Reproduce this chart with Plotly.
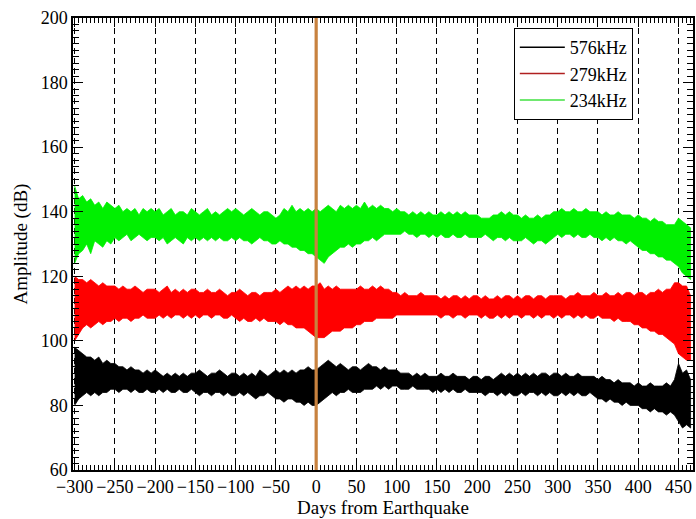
import plotly.graph_objects as go

# ---------------- data ----------------
days = list(range(-300, 470, 5))          # sampling grid, days from earthquake
quake_day = 0

series_names = ["576kHz", "279kHz", "234kHz"]

# 234 kHz (green) upper / lower envelope, dB
green_upper = [
    148, 144, 145, 143, 144, 142, 143, 141, 143, 142,
    141, 142, 140, 141, 140, 141, 139, 141, 140, 141,
    140, 141, 139, 140, 141, 139, 140, 140, 139, 141,
    140, 139, 140, 141, 139, 140, 139, 140, 141, 140,
    141, 140, 139, 140, 141, 140, 139, 140, 140, 139,
    138, 139, 141, 140, 142, 140, 141, 140, 141, 140,
    141, 140, 141, 142, 141, 140, 142, 141, 142, 141,
    142, 141, 143, 141, 142, 141, 142, 141, 141, 140,
    141, 140, 140, 139, 140, 139, 140, 139, 140, 139,
    139, 140, 139, 140, 139, 140, 139, 140, 139, 139,
    139, 138, 138, 138, 139, 139, 140, 139, 140, 139,
    139, 138, 139, 138, 138, 139, 138, 139, 139, 140,
    140, 141, 140, 140, 141, 140, 140, 141, 140, 140,
    140, 139, 140, 139, 139, 140, 139, 139, 139, 138,
    139, 138, 138, 137, 138, 137, 137, 136, 136, 136,
    138, 137, 136, 135,
]
green_lower = [
    124, 127, 128, 130, 127, 131, 130, 129, 131, 130,
    132, 131, 132, 133, 131, 132, 133, 132, 131, 132,
    132, 131, 132, 130, 131, 132, 131, 130, 132, 131,
    132, 131, 132, 131, 132, 131, 132, 131, 131, 132,
    131, 132, 131, 131, 130, 131, 132, 131, 131, 130,
    130, 131, 130, 130, 129, 129, 128, 128, 127, 127,
    126, 125, 124, 126, 127, 128, 129, 129, 130, 129,
    130, 130, 131, 131, 132, 131, 132, 133, 133, 133,
    133, 133, 134, 133, 133, 132, 133, 133, 132, 133,
    132, 133, 132, 132, 133, 132, 132, 133, 132, 132,
    132, 132, 133, 132, 131, 132, 132, 131, 132, 131,
    131, 131, 132, 131, 130, 131, 131, 130, 131, 132,
    133, 132, 133, 133, 132, 133, 132, 132, 133, 132,
    132, 131, 132, 131, 132, 131, 131, 130, 131, 130,
    129, 128, 128, 127, 127, 126, 126, 125, 125, 124,
    123, 121, 120, 119,
]

# 279 kHz (red) upper / lower envelope, dB
red_upper = [
    120, 119, 119, 118, 119, 118, 117, 118, 117, 117,
    117, 116, 117, 116, 116, 117, 116, 115, 116, 116,
    116, 115, 116, 117, 115, 116, 115, 116, 115, 116,
    116, 115, 115, 116, 115, 115, 116, 115, 114, 115,
    115, 116, 115, 114, 115, 115, 114, 115, 115, 115,
    116, 115, 116, 117, 116, 117, 116, 117, 116, 117,
    117, 118, 116, 117, 116, 117, 116, 116, 116, 116,
    116, 117, 116, 116, 117, 116, 117, 116, 116, 115,
    115, 114, 115, 114, 114, 114, 115, 114, 114, 114,
    114, 113, 114, 113, 114, 114, 113, 114, 113, 114,
    114, 113, 114, 113, 113, 114, 113, 114, 114, 113,
    114, 113, 114, 114, 113, 114, 114, 113, 114, 114,
    114, 114, 113, 114, 114, 115, 114, 114, 114, 115,
    114, 114, 115, 114, 114, 115, 114, 115, 115, 114,
    115, 115, 114, 115, 115, 116, 115, 116, 116, 118,
    118, 117, 117, 114,
]
red_lower = [
    100, 102, 104, 105, 104, 105, 106, 105, 106, 106,
    107, 106, 107, 107, 106, 107, 107, 108, 107, 107,
    107, 108, 107, 108, 107, 108, 108, 107, 108, 107,
    108, 107, 108, 108, 107, 108, 108, 107, 107, 108,
    107, 106, 107, 106, 106, 107, 106, 107, 106, 106,
    106, 105, 106, 105, 105, 104, 104, 104, 103, 102,
    101, 101, 101, 102, 103, 103, 103, 104, 104, 104,
    105, 105, 106, 106, 106, 107, 107, 107, 107, 107,
    108, 108, 108, 108, 108, 108, 108, 108, 108, 108,
    108, 107, 108, 108, 107, 108, 108, 107, 108, 108,
    108, 107, 108, 107, 107, 108, 107, 108, 107, 108,
    108, 107, 108, 108, 107, 108, 107, 108, 108, 107,
    108, 107, 108, 108, 107, 108, 107, 108, 107, 107,
    108, 107, 107, 107, 106, 107, 106, 106, 106, 105,
    105, 104, 104, 103, 103, 102, 102, 101, 100, 99,
    96, 95, 94, 94,
]

# 576 kHz (black) upper / lower envelope, dB
black_upper = [
    98, 97, 96, 95, 95, 94, 95, 93, 94, 93,
    93, 92, 92, 91, 92, 91, 91, 90, 91, 90,
    91, 90, 89, 90, 89, 90, 89, 90, 89, 90,
    90, 91, 90, 89, 90, 90, 91, 90, 89, 90,
    90, 89, 90, 89, 90, 89, 91, 90, 89, 90,
    91, 90, 91, 90, 91, 90, 91, 91, 92, 91,
    91, 92, 93, 94, 93, 92, 93, 92, 91, 92,
    92, 91, 92, 93, 92, 92, 91, 92, 91, 91,
    91, 90, 90, 90, 89, 90, 89, 90, 89, 89,
    89, 90, 89, 89, 90, 89, 89, 89, 88, 89,
    89, 88, 89, 89, 88, 89, 90, 89, 90, 89,
    90, 89, 90, 89, 90, 89, 90, 90, 89, 90,
    90, 89, 90, 89, 89, 90, 89, 89, 89, 89,
    88, 89, 88, 88, 87, 88, 87, 87, 87, 86,
    87, 86, 86, 87, 86, 86, 86, 87, 86, 88,
    93, 90, 91, 88,
]
black_lower = [
    80, 82, 83, 84, 83, 84, 83, 84, 84, 85,
    85, 84, 85, 85, 84, 85, 84, 84, 85, 84,
    84, 85, 84, 85, 84, 84, 85, 84, 84, 85,
    84, 83, 84, 84, 83, 84, 84, 83, 84, 83,
    83, 84, 83, 84, 83, 82, 83, 83, 84, 83,
    82, 82, 81, 82, 82, 81, 81, 80, 81, 80,
    80, 81, 82, 83, 84, 83, 84, 84, 85, 84,
    84, 84, 85, 85, 85, 86, 85, 86, 85, 86,
    86, 85, 85, 85, 86, 85, 85, 85, 85, 84,
    85, 84, 85, 84, 85, 84, 84, 85, 84, 84,
    84, 84, 83, 84, 84, 83, 84, 83, 84, 83,
    83, 84, 83, 84, 84, 83, 84, 83, 84, 83,
    83, 84, 83, 84, 83, 84, 83, 83, 84, 83,
    82, 82, 81, 82, 81, 81, 80, 81, 80, 80,
    80, 79, 79, 78, 79, 78, 78, 77, 78, 77,
    75, 73, 74, 73,
]

x_tick_vals = [-300, -250, -200, -150, -100, -50, 0, 50, 100, 150, 200, 250, 300, 350, 400, 450]
y_tick_vals = [60, 80, 100, 120, 140, 160, 180, 200]

# ---------------- styling ----------------
FONT = "Liberation Serif, Times New Roman, serif"
colors = {"576kHz": "#000000", "279kHz": "#ff0000", "234kHz": "#00f000"}
legend_colors = {"576kHz": "#000000", "279kHz": "#b02020", "234kHz": "#40e040"}

bands = [
    ("576kHz", black_upper, black_lower),
    ("279kHz", red_upper, red_lower),
    ("234kHz", green_upper, green_lower),
]

fig = go.Figure()

for name, up, lo in bands:
    fig.add_trace(go.Scatter(
        x=days + days[::-1],
        y=up + lo[::-1],
        mode="lines",
        fill="toself",
        fillcolor=colors[name],
        line=dict(color=colors[name], width=0.8),
        showlegend=False,
        hoverinfo="skip",
    ))

# legend proxies (line samples)
for name in series_names:
    fig.add_trace(go.Scatter(
        x=[None], y=[None], mode="lines", name=name,
        line=dict(color=legend_colors[name], width=1.5),
    ))

# earthquake marker line
fig.add_shape(type="line", xref="x", yref="paper",
              x0=quake_day, x1=quake_day, y0=0, y1=1,
              line=dict(color="#c8823f", width=3.2), layer="above")

axis_common = dict(
    showline=True, linecolor="black", linewidth=1.5, mirror="allticks",
    ticks="inside", tickcolor="black", tickwidth=1,
    zeroline=False,
    tickfont=dict(family=FONT, size=18, color="black"),
)

fig.update_xaxes(
    range=[-302, 468],
    tickvals=x_tick_vals,
    ticklen=9,
    showgrid=True, gridcolor="black", gridwidth=1, griddash="6px,4px",
    minor=dict(dtick=5, ticks="inside", ticklen=5, tickcolor="black", showgrid=False),
    title=dict(text="Days from Earthquake", font=dict(family=FONT, size=19, color="black"), standoff=3),
    **axis_common,
)
fig.update_yaxes(
    range=[60, 200],
    tickvals=y_tick_vals,
    ticklen=10,
    showgrid=False,
    minor=dict(dtick=2, ticks="inside", ticklen=6, tickcolor="black", showgrid=False),
    title=dict(text="Amplitude (dB)", font=dict(family=FONT, size=19, color="black"), standoff=8),
    **axis_common,
)

fig.update_layout(
    width=696, height=519,
    margin=dict(l=73, r=1, t=18, b=49),
    paper_bgcolor="white", plot_bgcolor="white",
    font=dict(family=FONT, size=18, color="black"),
    legend=dict(
        x=0.711, y=0.978, xanchor="left", yanchor="top",
        bgcolor="white", bordercolor="black", borderwidth=1,
        font=dict(family=FONT, size=18, color="black"),
        tracegroupgap=0, itemwidth=45,
    ),
    showlegend=True,
)

fig.write_html("out.html", config={"displayModeBar": False},
               post_script="document.body.style.margin='0px';")
